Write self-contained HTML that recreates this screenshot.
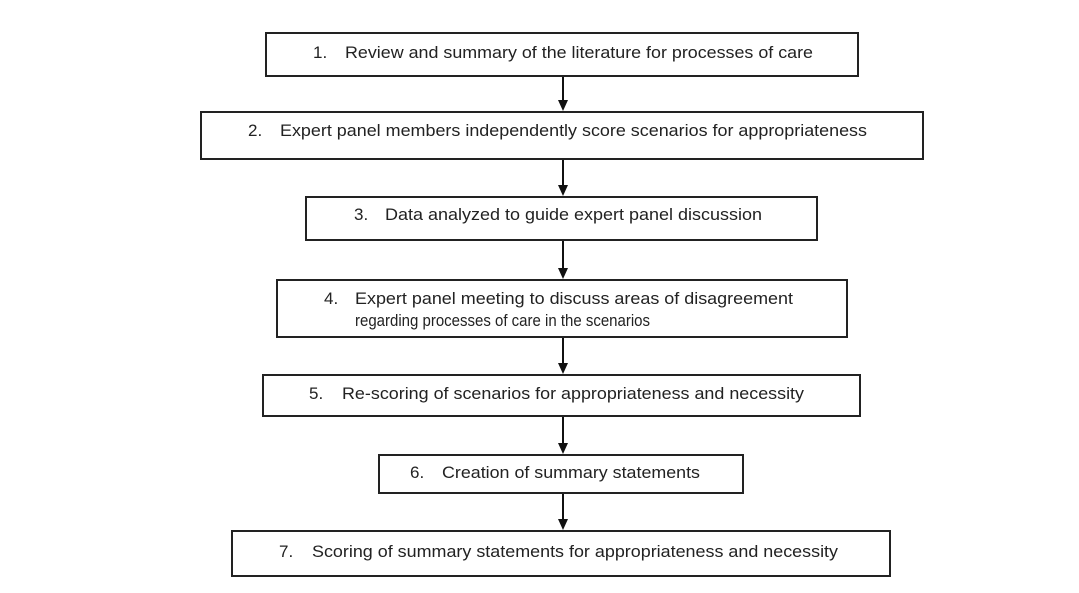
<!DOCTYPE html>
<html><head><meta charset="utf-8"><style>
html,body{margin:0;padding:0;background:#fff;}
svg{display:block}
text{font-family:"Liberation Sans",Arial,sans-serif;font-size:17px;fill:#222;}
</style></head><body>
<svg width="1079" height="593" viewBox="0 0 1079 593" xmlns="http://www.w3.org/2000/svg">
<g fill="#fff" stroke="#222" stroke-width="2">
<rect x="266" y="33" width="592" height="43"/>
<rect x="201" y="112" width="722" height="47"/>
<rect x="306" y="197" width="511" height="43"/>
<rect x="277" y="280" width="570" height="57"/>
<rect x="263" y="375" width="597" height="41"/>
<rect x="379" y="455" width="364" height="38"/>
<rect x="232" y="531" width="658" height="45"/>
</g>
<g stroke="#111" stroke-width="2">
<line x1="563" y1="77" x2="563" y2="102"/>
<line x1="563" y1="160" x2="563" y2="187"/>
<line x1="563" y1="241" x2="563" y2="270"/>
<line x1="563" y1="338" x2="563" y2="365"/>
<line x1="563" y1="417" x2="563" y2="445"/>
<line x1="563" y1="494" x2="563" y2="521"/>
</g>
<g fill="#111">
<polygon points="558,100 568,100 563,111"/>
<polygon points="558,185 568,185 563,196"/>
<polygon points="558,268 568,268 563,279"/>
<polygon points="558,363 568,363 563,374"/>
<polygon points="558,443 568,443 563,454"/>
<polygon points="558,519 568,519 563,530"/>
</g>
<text x="313" y="58">1.</text><text x="345" y="58" textLength="468" lengthAdjust="spacingAndGlyphs">Review and summary of the literature for processes of care</text>
<text x="248" y="136">2.</text><text x="280" y="136" textLength="587" lengthAdjust="spacingAndGlyphs">Expert panel members independently score scenarios for appropriateness</text>
<text x="354" y="220">3.</text><text x="385" y="220" textLength="377" lengthAdjust="spacingAndGlyphs">Data analyzed to guide expert panel discussion</text>
<text x="324" y="304">4.</text><text x="355" y="304" textLength="438" lengthAdjust="spacingAndGlyphs">Expert panel meeting to discuss areas of disagreement</text>
<text x="355" y="326" textLength="295" lengthAdjust="spacingAndGlyphs">regarding processes of care in the scenarios</text>
<text x="309" y="399">5.</text><text x="342" y="399" textLength="462" lengthAdjust="spacingAndGlyphs">Re-scoring of scenarios for appropriateness and necessity</text>
<text x="410" y="478">6.</text><text x="442" y="478" textLength="258" lengthAdjust="spacingAndGlyphs">Creation of summary statements</text>
<text x="279" y="557">7.</text><text x="312" y="557" textLength="526" lengthAdjust="spacingAndGlyphs">Scoring of summary statements for appropriateness and necessity</text>
</svg>
</body></html>
